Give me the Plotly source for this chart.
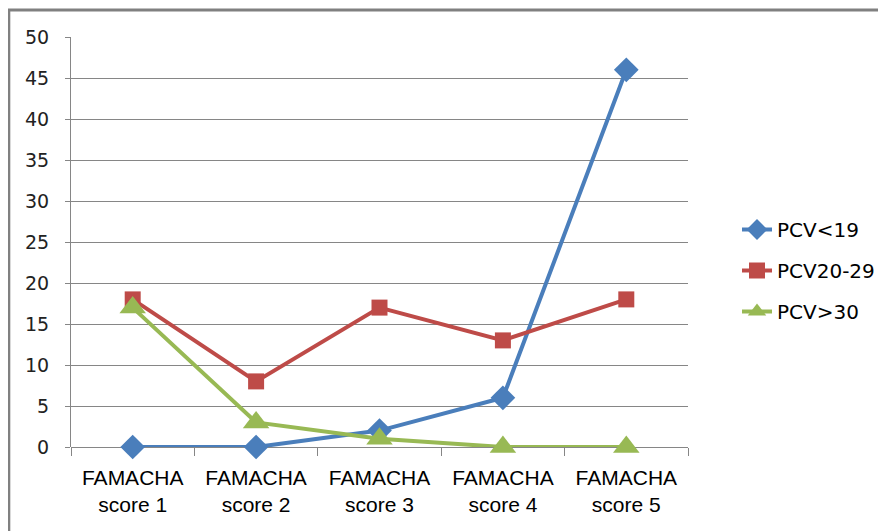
import plotly.graph_objects as go

categories = ["FAMACHA<br>score 1", "FAMACHA<br>score 2", "FAMACHA<br>score 3", "FAMACHA<br>score 4", "FAMACHA<br>score 5"]
pcv_lt19 = [0, 0, 2, 6, 46]
pcv_20_29 = [18, 8, 17, 13, 18]
pcv_gt30 = [17, 3, 1, 0, 0]
y_ticks = [0, 5, 10, 15, 20, 25, 30, 35, 40, 45, 50]

W, H = 886, 531
L, R, T, B = 63, 206, 29, 92
pw, ph = W - L - R, H - T - B

def px(x):
    return (x - L) / pw

def py(y):
    return 1 - (y - T) / ph

fig = go.Figure()
series = [
    ("PCV<19", pcv_lt19, "#4A7EBB", "diamond", 19),
    ("PCV20-29", pcv_20_29, "#BE4B48", "square", 16),
    ("PCV>30", pcv_gt30, "#98B954", "triangle-up", 23),
]
for name, vals, col, sym, sz in series:
    fig.add_trace(go.Scatter(
        x=categories, y=vals, name=name, mode="lines+markers",
        line=dict(color=col, width=4),
        marker=dict(symbol=sym, size=sz, color=col),
        legendgroup=name, cliponaxis=False,
    ))

fig.update_layout(
    width=W, height=H,
    margin=dict(l=L, r=R, t=T, b=B, autoexpand=False),
    paper_bgcolor="white", plot_bgcolor="white",
    showlegend=True,
    legend=dict(x=px(729), y=py(202), xanchor="left", yanchor="top",
                font=dict(family="DejaVu Sans", size=20, color="#000000"),
                tracegroupgap=12, bgcolor="rgba(0,0,0,0)"),
    xaxis=dict(type="category", range=[-0.5, 4.5], showgrid=False,
               showline=False, ticks="outside", tickson="boundaries",
               ticklen=8, tickcolor="#868686", ticklabelstandoff=16,
               tickfont=dict(family="Liberation Sans", size=21, color="#000000")),
    yaxis=dict(range=[0, 50], tickvals=y_ticks, showgrid=True,
               gridcolor="#868686", gridwidth=1, zeroline=True,
               zerolinecolor="#868686", zerolinewidth=1,
               showline=True, linecolor="#868686", linewidth=1,
               ticks="outside", ticklen=5, tickcolor="#868686",
               ticklabelstandoff=12,
               tickfont=dict(family="DejaVu Sans", size=19, color="#222222")),
    shapes=[
        dict(type="line", xref="paper", yref="paper", x0=px(0), x1=px(886), y0=py(2), y1=py(2),
             line=dict(color="#808080", width=3)),
        dict(type="line", xref="paper", yref="paper", x0=px(0.8), x1=px(0.8), y0=py(2), y1=py(531),
             line=dict(color="#808080", width=3)),
    ],
)

fig.write_html("out.html")
